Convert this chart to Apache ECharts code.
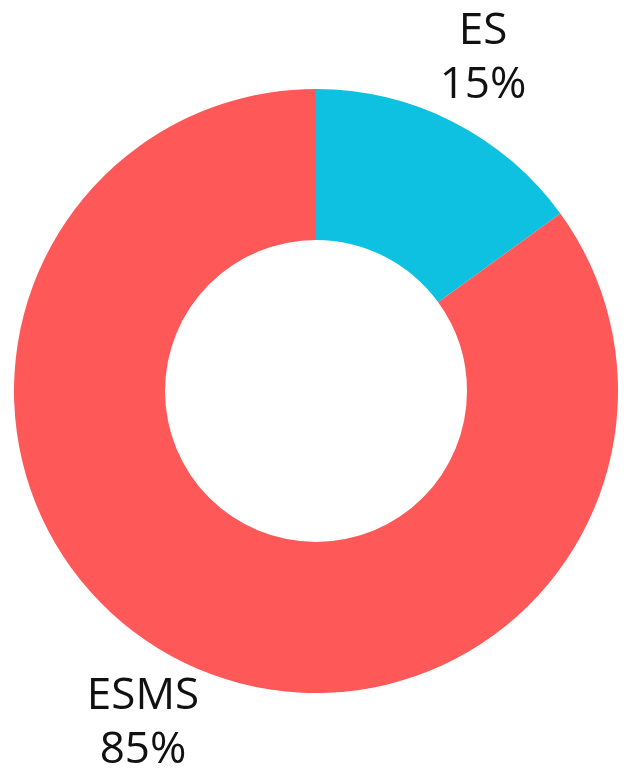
<!DOCTYPE html>
<html>
<head>
<meta charset="utf-8">
<script src="https://cdn.jsdelivr.net/npm/echarts@6/dist/echarts.min.js"></script>
<style>
  html, body { margin: 0; padding: 0; background: #fff; }
  #main { width: 634px; height: 780px; }
</style>
</head>
<body>
<div id="main"></div>
<script>
var names = ['ES', 'ESMS'];
var values = [15, 85];
var colors = ['#0ec1e0', '#ff5858'];

// label anchor spots (label centre), per slice
var labelSpots = [[483, 58], [143, 723]];

var chart = echarts.init(document.getElementById('main'));
var data = [];
for (var i = 0; i < names.length; i++) {
	data.push({ name: names[i], value: values[i], itemStyle: { color: colors[i] } });
}
var option = {
	animation: false,
	series: [{
		type: 'pie',
		center: [316, 391],
		radius: [151, 302],
		startAngle: 90,
		clockwise: true,
		data: data,
		label: {
			show: true,
			position: 'outside',
			formatter: '{b}\n{d}%',
			fontFamily: 'Open Sans',
			fontSize: 44,
			lineHeight: 54,
			color: '#111',
			align: 'center'
		},
		labelLine: { show: false },
		labelLayout: function (p) {
			var s = labelSpots[p.dataIndex];
			return { x: s[0], y: s[1], align: 'center', verticalAlign: 'middle' };
		},
		emphasis: { disabled: true }
	}]
};
chart.setOption(option);
</script>
</body>
</html>
